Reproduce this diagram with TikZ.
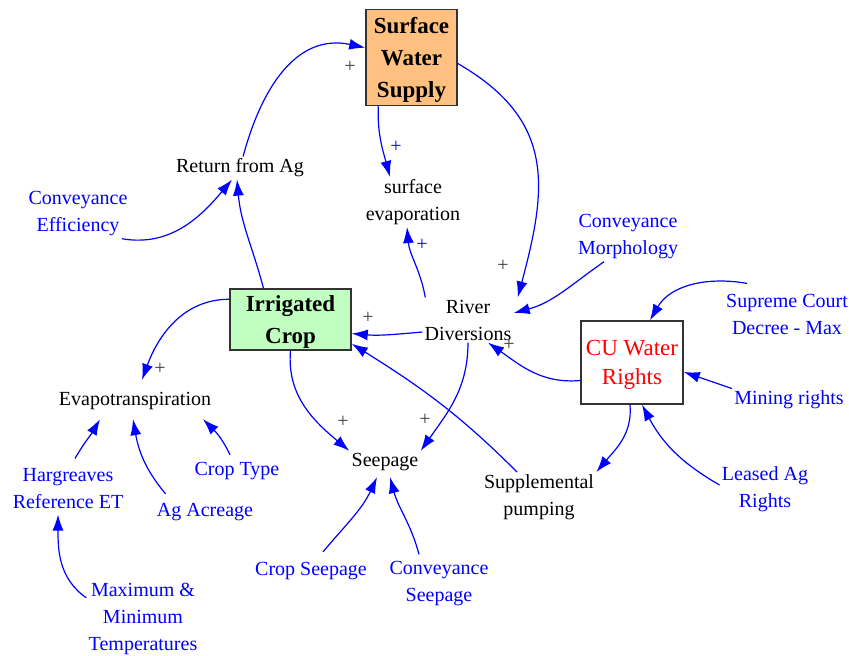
\documentclass[tikz,border=0pt]{standalone}
\usepackage{fontspec}
\setmainfont{Liberation Serif}
\usetikzlibrary{arrows.meta}
\definecolor{stockorange}{RGB}{255,192,128}
\definecolor{stockgreen}{RGB}{192,255,192}
\definecolor{signgray}{RGB}{60,60,60}
\begin{document}
\begin{tikzpicture}[x=0.5pt,y=0.5pt,
    var/.style={inner sep=1pt,align=center,yshift=-1pt,font=\fontsize{10}{13.5}\selectfont},
    ext/.style={var,text=blue},
    stock/.style={draw=black!80,line width=0.75pt,inner sep=0pt,align=center,font=\fontsize{11.5}{16}\selectfont\bfseries},
    rights/.style={draw=black!80,line width=0.75pt,inner sep=0pt,align=center,text=red,font=\fontsize{11.5}{14.5}\selectfont},
    link/.style={blue,line width=0.6pt,-{Latex[length=8pt,width=5.5pt]}},
    plus/.style={inner sep=0pt,text=signgray,font=\fontsize{10}{10}\selectfont},
    bplus/.style={plus,text=blue}]

    \useasboundingbox (0,0) rectangle (849,-655);

    % boxes
    \node[stock,fill=stockorange,minimum width=45.5pt,minimum height=48pt,text depth=-4pt] (sws) at (411.5,-57.5) {Surface\\Water\\Supply};
    \node[stock,fill=stockgreen,minimum width=60.5pt,minimum height=30.5pt,text depth=0pt] (irr) at (290.5,-319.5) {Irrigated\\Crop};
    \node[rights,minimum width=51pt,minimum height=41.5pt,text depth=0pt] (cuwr) at (632,-362.5) {CU Water\\Rights};

    % variables
    \node[var] (ret) at (240,-166) {Return from Ag};
    \node[var] (sevap) at (413,-200) {surface\\evaporation};
    \node[var] (riv) at (468,-318) {River\\Diversions};
    \node[var] (evap) at (135,-399) {Evapotranspiration};
    \node[var] (seep) at (385,-460) {Seepage};
    \node[var] (supp) at (539,-495) {Supplemental\\pumping};

    \node[ext] (ceff) at (78,-212) {Conveyance\\Efficiency};
    \node[ext] (cmorph) at (628,-235) {Conveyance\\Morphology};
    \node[ext] (supreme) at (787,-312) {Supreme Court\\Decree - Max};
    \node[ext] (mining) at (789,-398) {Mining rights};
    \node[ext] (ctype) at (237,-469) {Crop Type};
    \node[ext] (harg) at (68,-487) {Hargreaves\\Reference ET};
    \node[ext] (acre) at (205,-510) {Ag Acreage};
    \node[ext] (leased) at (765,-487) {Leased Ag\\Rights};
    \node[ext] (cseep) at (311,-569) {Crop Seepage};
    \node[ext] (convseep) at (439,-582) {Conveyance\\Seepage};
    \node[ext] (maxmin) at (143,-617) {Maximum \&\\Minimum\\Temperatures};

    % links
    \draw[link] (ret) to[out=75,in=168,looseness=1.1] (sws);
    \draw[link] ([xshift=6.5pt]sws.south west) to[out=-92,in=105] ([xshift=-11.5pt]sevap.north);
    \draw[link] ([yshift=-3pt]sws.east) to[out=-30,in=75,looseness=1.2] ([xshift=2pt]riv.north east);
    \draw[link] ([xshift=1.5pt]riv.north west) to[out=100,in=-85] ([xshift=-3pt]sevap.south);
    \draw[link] ([xshift=-12pt]cmorph.south) to[out=-145,in=15] ([yshift=3.5pt]riv.east);
    \draw[link] ([yshift=-9pt]cuwr.west) to[out=185,in=-35] ([xshift=10pt]riv.south);
    \draw[link] ([yshift=-6pt]riv.west) to[out=185,in=-5] ([yshift=-7pt]irr.east);
    \draw[link] ([xshift=-11pt]supp.north) to[out=135,in=-32] ([yshift=3.5pt]irr.south east);
    \draw[link] (riv.south) to[out=-90,in=55] (seep.north east);
    \draw[link] (irr.south) to[out=-95,in=140] (seep.north west);
    \draw[link] ([xshift=-13.5pt]irr.north) to[out=105,in=-85] ([xshift=-1.5pt]ret.south);
    \draw[link] ([xshift=-4pt]ceff.south east) to[out=-10,in=-130] ([xshift=-4pt]ret.south);
    \draw[link] ([yshift=-5.5pt]irr.north west) to[out=180,in=70] ([shift={(3.5pt,5pt)}]evap.north);
    \draw[link] ([shift={(3.5pt,4pt)}]harg.north) to[out=60,in=-120] ([shift={(-17.5pt,-3.5pt)}]evap.south);
    \draw[link] ([shift={(5.5pt,3.5pt)}]acre.north west) to[out=130,in=-80] ([shift={(-1pt,-3.5pt)}]evap.south);
    \draw[link] ([shift={(-3.5pt,2.5pt)}]ctype.north) to[out=115,in=-45] ([shift={(34pt,-3.5pt)}]evap.south);
    \draw[link] ([yshift=-8.5pt]maxmin.north west) to[out=145,in=-90] ([shift={(-5pt,-1.5pt)}]harg.south);
    \draw[link] ([shift={(6pt,4pt)}]cseep.north) to[out=50,in=-115] ([shift={(-4pt,-2pt)}]seep.south);
    \draw[link] ([shift={(-10pt,2.5pt)}]convseep.north) to[out=105,in=-75] ([shift={(2.5pt,-2pt)}]seep.south);
    \draw[link] ([shift={(-20pt,4pt)}]supreme.north) to[out=170,in=60] ([xshift=9pt]cuwr.north);
    \draw[link] (mining.north west) -- ([yshift=-4.75pt]cuwr.east);
    \draw[link] ([yshift=2pt]leased.west) to[out=150,in=-62] ([xshift=5pt]cuwr.south);
    \draw[link] ([xshift=-1pt]cuwr.south) to[out=-85,in=50] (supp.north east);

    % polarities
    \node[plus] (p1) at (350,-67) {+};
    \node[bplus] (p2) at (396,-147) {+};
    \node[plus] (p3) at (503,-266) {+};
    \node[bplus] (p4) at (422,-245) {+};
    \node[plus] (p5) at (509,-345) {+};
    \node[plus] (p6) at (368,-318) {+};
    \node[plus] (p7) at (425,-420) {+};
    \node[plus] (p8) at (343,-422) {+};
    \node[plus] (p9) at (160,-369) {+};

\end{tikzpicture}
\end{document}
